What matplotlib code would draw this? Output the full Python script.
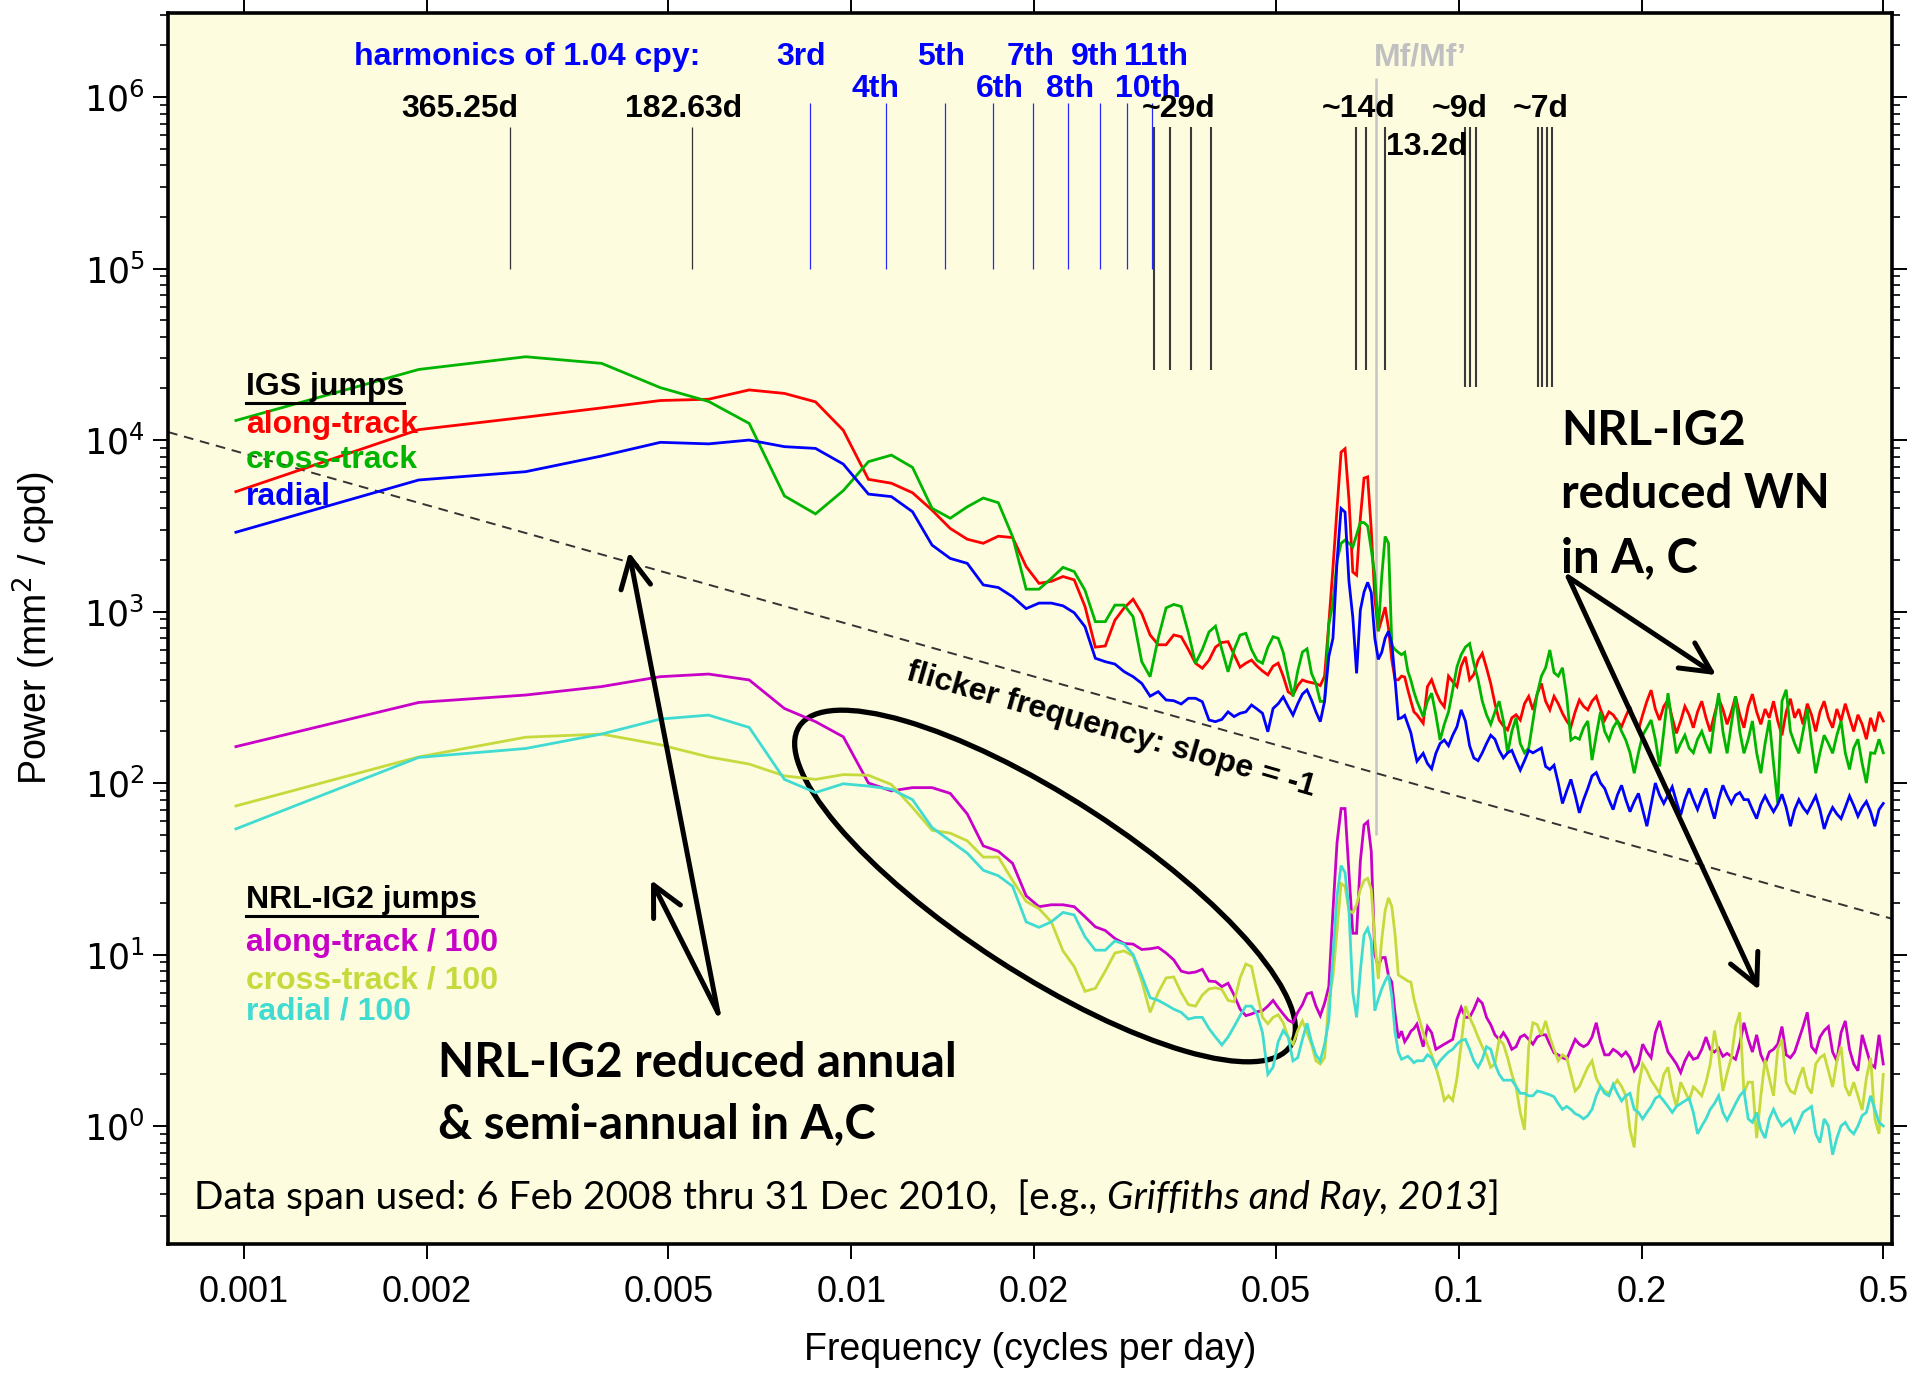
import numpy as np
import matplotlib
matplotlib.use("Agg")
import matplotlib.pyplot as plt
from matplotlib.patches import Ellipse
from matplotlib.lines import Line2D
from matplotlib.ticker import NullLocator, FixedLocator, LogFormatterSciNotation
from matplotlib.transforms import IdentityTransform

plt.rcParams['font.family'] = ['Liberation Sans', 'DejaVu Sans']

# ---------------------------------------------------------------
# frequency bins (cycles per day)
# ---------------------------------------------------------------
BIN = 0.00097
freq_lo = BIN * np.arange(1, 89)            # every periodogram bin up to ~0.085 cpd
freq_hi = np.geomspace(0.0874, 0.5, 110)    # thinned grid through the white-noise tail

# ---------------------------------------------------------------
# IGS jump spectra, mm^2/cpd
# ---------------------------------------------------------------
igs_along_lo = [
    5000, 11500, 13600, 15400, 17000, 17300, 19600, 18700, 16700, 11400,
    5900, 5600, 4930, 3900, 3050, 2640, 2500, 2750, 2700, 1830,
    1460, 1500, 1600, 1530, 1070, 620, 630, 890, 1050, 1180,
    975, 730, 640, 640, 730, 713, 600, 500, 467, 520,
    620, 660, 667, 560, 473, 500, 521, 480, 450, 427,
    480, 500, 420, 340, 326, 370, 399, 390, 385, 380,
    370, 420, 850, 1800, 4000, 8500, 8900, 4500, 1700, 1630,
    3500, 6000, 6100, 3000, 1200, 770, 900, 1060, 800, 520,
    400, 400, 420, 415, 350, 300, 260, 250]
igs_along_hi = [
    223, 365, 400, 340, 300, 278, 420, 390, 365, 480,
    545, 400, 430, 520, 570, 470, 380, 290, 233, 215,
    204, 240, 250, 233, 290, 320, 267, 330, 381, 300,
    267, 320, 290, 255, 230, 213, 260, 305, 280, 267,
    300, 320, 270, 233, 260, 250, 230, 213, 245, 278,
    230, 204, 250, 300, 348, 270, 233, 280, 305, 240,
    195, 230, 280, 250, 210, 260, 300, 240, 200, 250,
    310, 270, 220, 260, 320, 250, 210, 280, 330, 260,
    220, 270, 240, 300, 230, 190, 260, 310, 240, 270,
    220, 290, 250, 200, 260, 300, 240, 210, 270, 230,
    290, 240, 200, 250, 220, 180, 240, 200, 260, 230]

igs_cross_lo = [
    13000, 25800, 30600, 28000, 20200, 16800, 12500, 4720, 3710, 5070,
    7480, 8170, 6930, 4000, 3500, 4080, 4590, 4310, 2730, 1350,
    1350, 1560, 1810, 1710, 1330, 873, 873, 1090, 1090, 933,
    510, 417, 700, 1050, 1100, 1070, 750, 499, 600, 760,
    822, 600, 445, 600, 729, 746, 600, 520, 499, 620,
    713, 698, 578, 420, 320, 450, 580, 606, 436, 380,
    299, 300, 843, 1120, 1970, 2500, 2610, 2500, 2380, 2800,
    3310, 3300, 3150, 2300, 1630, 767, 1600, 2740, 2500, 636,
    600, 578, 560, 578, 450, 397, 340, 300]
igs_cross_hi = [
    244, 300, 334, 250, 178, 220, 260, 350, 476, 560,
    620, 650, 500, 400, 300, 250, 220, 260, 300, 230,
    149, 200, 240, 170, 150, 160, 230, 330, 420, 470,
    597, 440, 420, 470, 320, 178, 185, 180, 210, 230,
    136, 190, 260, 200, 178, 210, 230, 200, 178, 150,
    114, 150, 190, 210, 233, 180, 125, 200, 334, 220,
    149, 170, 190, 160, 150, 180, 200, 170, 149, 230,
    334, 200, 149, 220, 320, 200, 149, 180, 230, 150,
    114, 170, 233, 130, 76, 300, 350, 200, 170, 149,
    200, 270, 170, 114, 150, 190, 170, 149, 190, 230,
    150, 120, 160, 180, 130, 100, 150, 149, 180, 150]

igs_radial_lo = [
    2900, 5850, 6540, 8070, 9700, 9500, 10000, 9150, 8940, 7240,
    4840, 4680, 3820, 2440, 2040, 1910, 1430, 1380, 1220, 1040,
    1120, 1120, 1080, 984, 816, 534, 510, 494, 446, 417,
    381, 321, 341, 305, 302, 289, 312, 312, 298, 233,
    228, 235, 260, 244, 255, 260, 285, 270, 255, 199,
    272, 290, 318, 280, 249, 290, 330, 349, 305, 260,
    228, 300, 546, 698, 1970, 3990, 3800, 1500, 927, 436,
    1020, 1300, 1480, 1290, 700, 526, 578, 700, 767, 650,
    400, 237, 240, 248, 220, 196, 160, 134]
igs_radial_hi = [
    149, 130, 121, 149, 170, 178, 165, 190, 213, 267,
    230, 165, 140, 135, 150, 170, 190, 180, 155, 140,
    150, 155, 135, 119, 135, 155, 150, 155, 160, 125,
    120, 127, 100, 76, 90, 105, 85, 67, 80, 93,
    110, 115, 100, 93, 80, 70, 85, 97, 80, 68,
    78, 87, 70, 56, 75, 100, 85, 76, 85, 95,
    78, 65, 80, 93, 80, 70, 82, 93, 75, 62,
    80, 97, 85, 76, 85, 88, 80, 80, 70, 62,
    75, 84, 75, 68, 75, 86, 72, 56, 70, 80,
    72, 67, 75, 84, 70, 54, 64, 72, 66, 62,
    72, 84, 74, 64, 72, 78, 68, 56, 70, 76]

# ---------------------------------------------------------------
# NRL-IG2 jump spectra, already divided by 100
# ---------------------------------------------------------------
nrl_along_lo = [
    163, 295, 326, 365, 417, 432, 399, 272, 228, 186,
    100, 90, 94, 94, 87, 66, 43, 40, 34, 22,
    19, 19.5, 19.5, 19, 16.6, 14.5, 13.8, 12.4, 11.6, 11.5,
    10.7, 10.8, 11.0, 10.2, 9.3, 8.0, 7.8, 7.9, 8.2, 7.0,
    6.95, 6.5, 6.8, 5.8, 4.8, 4.4, 4.5, 4.64, 4.7, 5.0,
    5.4, 4.9, 4.5, 4.15, 4.0, 4.6, 5.1, 5.9, 6.0, 5.0,
    4.4, 5.2, 6.5, 18, 45, 71, 71, 30, 13.3, 13.3,
    35, 57, 59.5, 40, 10, 8.5, 9.6, 9.6, 7.5, 6.9,
    4.5, 3.25, 3.57, 3.1, 3.3, 3.57, 3.7, 3.93]
nrl_along_hi = [
    2.9, 3.8, 3.5, 2.8, 2.9, 3.0, 3.1, 3.2, 4.2, 4.9,
    4.3, 4.3, 4.8, 5.5, 5.2, 4.3, 3.9, 3.4, 3.2, 3.5,
    3.2, 2.8, 2.9, 3.3, 3.4, 3.2, 3.0, 3.3, 3.4, 3.4,
    3.0, 2.67, 2.6, 2.5, 2.45, 2.8, 3.2, 3.0, 2.9, 3.0,
    3.3, 4.0, 3.1, 2.6, 2.6, 2.8, 2.7, 2.55, 2.7, 2.5,
    2.1, 2.3, 3.0, 2.7, 2.5, 3.5, 4.1, 3.3, 2.7, 2.5,
    2.3, 2.05, 2.4, 2.67, 2.45, 2.5, 2.8, 3.3, 2.8, 2.7,
    2.85, 2.55, 2.65, 2.55, 2.45, 3.0, 4.0, 3.2, 2.7, 3.4,
    2.6, 2.3, 2.7, 2.8, 3.0, 3.8, 2.6, 2.5, 2.7, 3.2,
    3.8, 4.6, 2.9, 2.7, 3.3, 3.6, 3.8, 2.7, 2.4, 3.5,
    4.1, 2.8, 2.3, 2.1, 3.4, 2.8, 2.3, 2.2, 3.4, 2.3]

nrl_cross_lo = [
    73.5, 142, 185, 193, 167, 142, 129, 110, 105, 112,
    111, 98, 72, 53, 51, 46, 37, 37, 27, 20.4,
    18.5, 15.5, 10.5, 8.5, 6.1, 6.35, 8.0, 10.2, 10.5, 9.8,
    7.0, 4.6, 6.0, 7.3, 7.4, 6.0, 5.1, 5.0, 5.8, 6.3,
    6.4, 6.25, 5.4, 5.3, 7.3, 8.8, 8.5, 6.0, 4.3, 3.95,
    4.3, 4.45, 4.0, 3.3, 3.0, 3.6, 4.1, 3.5, 3.0, 2.4,
    2.3, 2.5, 5.5, 7.4, 14, 25.9, 25, 18, 17.5, 19.5,
    24, 27, 27.8, 24, 12, 7.2, 12.2, 18, 21.4, 19,
    13, 7.6, 7.4, 7.2, 7.0, 6.9, 5.5, 4.7]
nrl_cross_hi = [
    3.5, 3.0, 2.6, 2.2, 1.8, 1.41, 1.5, 1.41, 1.9, 3.0,
    5.0, 4.3, 3.8, 3.3, 2.9, 2.6, 2.2, 2.3, 3.2, 3.0,
    2.5, 2.0, 1.69, 1.2, 0.95, 2.9, 4.0, 3.9, 3.4, 4.1,
    3.3, 2.8, 2.4, 2.6, 2.5, 2.0, 1.6, 1.7, 1.94, 2.2,
    2.4, 1.9, 1.7, 1.6, 1.55, 1.7, 1.85, 1.7, 1.5, 0.95,
    0.75, 1.69, 2.3, 2.1, 1.85, 1.7, 1.55, 2.0, 2.2, 1.6,
    1.3, 1.8, 1.6, 1.41, 1.69, 1.6, 1.5, 1.8, 2.3, 3.6,
    2.6, 1.6, 2.03, 2.5, 3.8, 4.6, 1.55, 1.8, 1.8, 0.85,
    1.5, 2.43, 1.9, 1.5, 2.8, 3.2, 1.8, 1.6, 1.55, 1.9,
    2.2, 1.7, 1.55, 2.3, 2.5, 2.6, 2.1, 1.69, 2.4, 2.9,
    1.7, 1.5, 1.8, 1.5, 1.24, 1.9, 2.5, 1.1, 0.9, 2.0]

nrl_radial_lo = [
    54, 141, 159, 193, 236, 249, 211, 105, 88, 99,
    96, 92, 80, 55, 46, 39, 31, 28.8, 25, 15.5,
    14.4, 15.5, 17.6, 17, 12.7, 10.6, 10.6, 12, 11.5, 10,
    7.5, 5.6, 5.4, 5.1, 4.8, 4.6, 4.2, 4.3, 4.3, 3.7,
    3.3, 2.97, 3.3, 3.8, 4.4, 5.0, 5.0, 4.5, 3.5, 2.0,
    2.2, 3.1, 3.6, 3.3, 2.4, 2.5, 3.2, 3.97, 3.1, 2.6,
    2.4, 3.0, 4.1, 10, 22, 33, 30, 18, 6, 4.3,
    8, 13, 14.2, 12, 4.7, 5.5, 6.3, 7.0, 7.6, 5.7,
    3.5, 2.7, 2.45, 2.5, 2.55, 2.45, 2.34, 2.4]
nrl_radial_hi = [
    2.4, 2.6, 2.5, 2.2, 2.4, 2.55, 2.7, 2.8, 3.0, 3.15,
    3.2, 2.8, 2.4, 2.2, 2.45, 2.9, 2.8, 2.3, 2.0, 1.85,
    1.85, 1.85, 1.7, 1.55, 1.55, 1.5, 1.5, 1.6, 1.58, 1.55,
    1.52, 1.48, 1.35, 1.25, 1.3, 1.25, 1.18, 1.15, 1.1, 1.15,
    1.25, 1.5, 1.7, 1.55, 1.5, 1.75, 1.55, 1.4, 1.5, 1.55,
    1.25, 1.2, 1.1, 1.2, 1.3, 1.45, 1.5, 1.4, 1.3, 1.2,
    1.3, 1.35, 1.4, 1.45, 1.2, 0.9, 1.0, 1.1, 1.25, 1.35,
    1.5, 1.2, 1.08, 1.2, 1.35, 1.5, 1.6, 1.1, 1.05, 1.2,
    0.95, 0.85, 1.1, 1.25, 1.1, 1.0, 1.05, 1.1, 0.93, 1.05,
    1.2, 1.25, 1.3, 0.9, 0.8, 1.1, 1.0, 0.68, 0.85, 1.0,
    1.05, 0.95, 0.9, 1.0, 1.15, 1.2, 1.5, 1.25, 1.05, 1.0]

# ---------------------------------------------------------------
# reference frequencies and labels
# ---------------------------------------------------------------
annual_f = [1 / 365.25, 1 / 182.63]
harmonic_n = [3, 4, 5, 6, 7, 8, 9, 10, 11]
harmonic_f = [n * 1.04 / 365.25 for n in harmonic_n]
harmonic_names = ['3rd', '4th', '5th', '6th', '7th', '8th', '9th', '10th', '11th']
harmonic_label_f = [0.00826, 0.01094, 0.01405, 0.01758, 0.0197, 0.02292, 0.02519, 0.0308, 0.03175]
tide_month_f = [0.0315, 0.03348, 0.0362, 0.03906]
tide_fortnight_f = [0.0678, 0.0703, 0.0757]
tide_9d_f = [0.1023, 0.1042, 0.1066]
tide_7d_f = [0.1349, 0.1373, 0.1398, 0.1424]
mf_f = 1 / 13.66

period_names = ['365.25d', '182.63d', '~29d', '~14d', '~9d', '~7d']
period_label_f = [0.002268, 0.005302, 0.03464, 0.0683, 0.10053, 0.1367]

FLICKER_AMP = 8.35                      # P = A / f
flicker_f = np.array([0.00075, 0.517])

xtick_vals = [0.001, 0.002, 0.005, 0.01, 0.02, 0.05, 0.1, 0.2, 0.5]
xtick_labels = ['0.001', '0.002', '0.005', '0.01', '0.02', '0.05', '0.1', '0.2', '0.5']
ytick_vals = [1e0, 1e1, 1e2, 1e3, 1e4, 1e5, 1e6]
yminor_vals = [m * 10.0 ** e for e in range(-1, 7) for m in range(2, 10)]

RED, GREEN, BLUE = '#ff0000', '#00b400', '#0000ff'
MAGENTA, LIME, CYAN = '#c800c8', '#c5da3c', '#40dcd2'
callout = ['Lato', 'DejaVu Sans']

# ---------------------------------------------------------------
# figure
# ---------------------------------------------------------------
fig = plt.figure(figsize=(19.25, 13.74), dpi=100)
ax = fig.add_axes([0.0873, 0.0946, 0.8956, 0.8959])
ax.set_facecolor('#fdfcdf')
ax.set_xscale('log')
ax.set_yscale('log')

# reference markers at the top
ax.vlines(annual_f, 1e5, 6.7e5, color='#333333', lw=0.9)
ax.vlines(harmonic_f, 1e5, 9.2e5, color='#2828ff', lw=0.9)
ax.vlines(tide_month_f + tide_fortnight_f, 2.56e4, 6.7e5, color='#3a3a3a', lw=1.5)
ax.vlines(tide_9d_f + tide_7d_f, 2.04e4, 6.7e5, color='#3a3a3a', lw=1.5)
ax.vlines(mf_f, 50, 1.3e6, color='#c4c4c4', lw=1.8)

ax.plot(flicker_f, FLICKER_AMP / flicker_f, color='#333333', lw=1.4, ls=(0, (5, 3.5)))

freq = np.concatenate([freq_lo, freq_hi])
series = [
    (igs_along_lo + igs_along_hi, RED),
    (igs_cross_lo + igs_cross_hi, GREEN),
    (igs_radial_lo + igs_radial_hi, BLUE),
    (nrl_along_lo + nrl_along_hi, MAGENTA),
    (nrl_cross_lo + nrl_cross_hi, LIME),
    (nrl_radial_lo + nrl_radial_hi, CYAN),
]
for vals, col in series:
    ax.plot(freq, vals, color=col, lw=2.0, solid_joinstyle='miter')

# axes styling
for sp in ax.spines.values():
    sp.set_linewidth(2.6)
ax.set_xticks(xtick_vals)
ax.set_xticklabels(xtick_labels)
ax.xaxis.set_minor_locator(NullLocator())
ax.yaxis.set_major_locator(FixedLocator(ytick_vals))
ax.yaxis.set_major_formatter(LogFormatterSciNotation())
ax.yaxis.set_minor_locator(FixedLocator(yminor_vals))
ax.set_xlim(0.00075, 0.517)
ax.set_ylim(0.205, 3.09e6)
ax.tick_params(axis='x', which='major', direction='out', length=11, width=1.4,
               top=True, labelsize=26, pad=11)
ax.tick_params(axis='y', which='major', direction='out', length=11, width=1.4,
               right=True, labelsize=25, pad=6, labelfontfamily='DejaVu Sans')
ax.tick_params(axis='y', which='minor', direction='out', length=6, width=1.2, right=True)

ax.set_xlabel('Frequency (cycles per day)', fontsize=27)
ax.set_ylabel('Power (mm$^2$ / cpd)', fontsize=27)
ax.xaxis.set_label_coords(0.5, -0.0865)
ax.xaxis.label.set_va('center')
ax.yaxis.set_label_coords(-0.0777, 0.5)
ax.yaxis.label.set_va('center')

# labels for the reference markers
bold = dict(fontsize=23, fontweight='bold')
ax.text(0.001517, 1.537e6, 'harmonics of 1.04 cpy:', color=BLUE, ha='left', va='baseline', **bold)
for i, (name, xf) in enumerate(zip(harmonic_names, harmonic_label_f)):
    ax.text(xf, 1.537e6 if i % 2 == 0 else 1.0e6, name, color=BLUE,
            ha='center', va='baseline', **bold)
for name, xf in zip(period_names, period_label_f):
    ax.text(xf, 7.64e5, name, color='black', ha='center', va='baseline', **bold)
ax.text(0.08872, 4.59e5, '13.2d', color='black', ha='center', va='baseline', **bold)
ax.text(0.0864, 1.537e6, 'Mf/Mf\u2019', color='#c0c0c0', ha='center', va='baseline', **bold)

# series key
igs_title = ax.text(0.001008, 18300, 'IGS jumps', color='black', va='baseline', **bold)
ax.text(0.001008, 10990, 'along-track', color=RED, va='baseline', **bold)
ax.text(0.001008, 6865, 'cross-track', color=GREEN, va='baseline', **bold)
ax.text(0.001008, 4178, 'radial', color=BLUE, va='baseline', **bold)
nrl_title = ax.text(0.001008, 18.67, 'NRL-IG2 jumps', color='black', va='baseline', **bold)
ax.text(0.001008, 10.52, 'along-track / 100', color=MAGENTA, va='baseline', **bold)
ax.text(0.001008, 6.35, 'cross-track / 100', color=LIME, va='baseline', **bold)
ax.text(0.001008, 4.19, 'radial / 100', color=CYAN, va='baseline', **bold)

ax.text(0.02677, 203.7, 'flicker frequency: slope = -1', rotation=-16, ha='center', va='center',
        rotation_mode='anchor', color='black', **bold)

# call-outs
big = dict(fontsize=34, fontweight='bold', family=callout, color='black', va='baseline')
ax.text(0.14745, 9350, 'NRL-IG2', **big)
ax.text(0.14745, 4013, 'reduced WN', **big)
ax.text(0.14745, 1700, 'in A, C', **big)
ax.text(0.002086, 1.931, 'NRL-IG2 reduced annual', **big)
ax.text(0.002086, 0.851, '& semi-annual in A,C', **big)

arrow_kw = dict(arrowstyle='->,head_length=0.9,head_width=0.45', lw=3.6, color='black',
                shrinkA=0, shrinkB=0, mutation_scale=24)
ax.annotate('', xy=(0.004305, 2223), xytext=(0.006034, 4.56), arrowprops=arrow_kw)
ax.annotate('', xy=(0.004679, 27.2), xytext=(0.006034, 4.56), arrowprops=arrow_kw)
ax.annotate('', xy=(0.2654, 426), xytext=(0.15145, 1590), arrowprops=arrow_kw)
ax.annotate('', xy=(0.31233, 6.21), xytext=(0.15145, 1590), arrowprops=arrow_kw)

ring = Ellipse((10.45, 4.88), 5.86, 1.76, angle=-33, transform=fig.dpi_scale_trans,
               fill=False, lw=3.8, ec='black', clip_on=False)
ax.add_patch(ring)

span = ax.text(0.0151, 0.0284, 'Data span used: 6 Feb 2008 thru 31 Dec 2010,  [e.g., ',
               transform=ax.transAxes, fontsize=28, family=callout, va='baseline')
cite = ax.annotate('Griffiths and Ray, 2013', xy=(1, 0), xycoords=span, va='bottom', ha='left',
                   fontsize=28, family=callout, style='italic')
ax.annotate(']', xy=(1, 0), xycoords=cite, va='bottom', ha='left', fontsize=28, family=callout)

# underline the two key titles
fig.canvas.draw()
for t in (igs_title, nrl_title):
    bb = t.get_window_extent()
    fig.add_artist(Line2D([bb.x0, bb.x1], [bb.y0 - 1, bb.y0 - 1], transform=IdentityTransform(),
                          color='black', lw=2.2))

fig.savefig('out.png', dpi=100)
